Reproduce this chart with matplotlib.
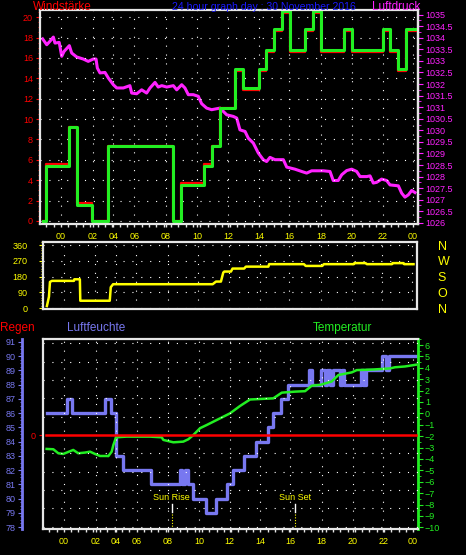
import numpy as np
import matplotlib
matplotlib.use('Agg')
import matplotlib.pyplot as plt
import matplotlib.transforms as mtransforms
from matplotlib.ticker import MultipleLocator

plt.rcParams['font.family'] = ['Liberation Sans', 'DejaVu Sans']

# ---- data -----------------------------------------------------------------
# time axis in chart hours; the original's hour labels are irregularly spaced
TICK_POS = [0, 2.18, 3.58, 5.0, 7.16, 9.28, 11.4, 13.5, 15.55, 17.72, 19.84, 21.95, 24.0]
TICK_LAB = ['00', '02', '04', '06', '08', '10', '12', '14', '16', '18', '20', '22', '00']
XLIM = (-1.43, 24.34)

# wind speed (red) and gusts (green), step series
wind_t = [-1.22, -1.04, 0.55, 1.11, 2.11, 3.21, 7.64, 8.16, 9.75, 10.30, 10.84, 11.88,
          12.39, 13.50, 13.96, 14.52, 15.07, 15.61, 16.64, 17.18, 17.71, 19.29, 19.82,
          21.93, 22.43, 22.96, 23.50, 24.18]
wind_avg = [0.0, 5.55, 9.25, 1.8, 0.0, 7.4, 0.0, 3.75, 5.55, 7.4, 11.1, 14.75, 12.85,
            14.75, 16.6, 18.6, 20.45, 16.6, 18.6, 20.45, 16.6, 18.6, 16.6, 18.6, 16.6,
            14.75, 18.6, 18.6]
wind_gust = [0.0, 5.4, 9.25, 1.6, 0.0, 7.35, 0.0, 3.55, 5.4, 7.35, 11.1, 14.95, 13.0,
             14.95, 16.8, 18.8, 20.6, 16.8, 18.8, 20.6, 16.8, 18.8, 16.8, 18.8, 16.8,
             14.95, 18.8, 18.8]

# air pressure (hPa)
press_t = [-1.25, -0.97, -0.75, -0.52, -0.41, -0.12, 0.05, 0.21, 0.57, 0.73, 1.07, 1.52,
           1.86, 2.20, 2.39, 2.48, 2.66, 3.00, 3.23, 3.57, 3.80, 4.25, 4.70, 4.82, 5.16,
           5.50, 5.84, 6.07, 6.41, 6.63, 6.87, 7.21, 7.66, 7.89, 8.23, 8.45, 8.68, 9.02,
           9.36, 9.59, 9.93, 10.27, 10.84, 11.30, 11.75, 11.98, 12.20, 12.55, 12.77,
           13.11, 13.45, 13.79, 14.02, 14.25, 14.59, 15.16, 15.39, 15.95, 16.41, 16.75,
           17.09, 17.88, 18.34, 18.56, 18.90, 19.14, 19.48, 19.82, 20.16, 20.39, 20.84,
           21.07, 21.29, 21.52, 21.86, 22.20, 22.43, 23.00, 23.23, 23.45, 23.68, 23.91,
           24.13]
press_hpa = [1033.95, 1033.70, 1033.85, 1034.03, 1033.77, 1033.80, 1033.20, 1033.41,
             1033.66, 1033.34, 1033.17, 1033.08, 1032.98, 1033.08, 1033.08, 1032.69,
             1032.48, 1032.50, 1032.26, 1031.97, 1031.83, 1031.83, 1031.93, 1031.61,
             1031.58, 1031.75, 1031.61, 1031.83, 1032.07, 1031.87, 1031.93, 1031.87,
             1031.93, 1031.75, 1031.97, 1031.83, 1031.54, 1031.54, 1031.47, 1031.15,
             1030.96, 1030.89, 1030.96, 1030.67, 1030.60, 1030.53, 1030.02, 1029.95,
             1029.66, 1029.45, 1029.02, 1028.73, 1028.65, 1028.83, 1028.73, 1028.73,
             1028.41, 1028.32, 1028.22, 1028.15, 1028.25, 1028.25, 1028.22, 1027.83,
             1027.83, 1028.08, 1028.26, 1028.32, 1028.22, 1028.00, 1028.00, 1028.03,
             1027.72, 1027.75, 1027.89, 1027.83, 1027.64, 1027.60, 1027.28, 1027.11,
             1027.21, 1027.40, 1027.31]

# wind direction (degrees)
dir_t = [-1.16, -1.02, -0.95, -0.81, 0.70, 0.73, 1.11, 1.14, 3.17, 3.24, 3.40, 10.26,
         10.49, 10.83, 10.99, 11.06, 11.52, 11.63, 12.43, 12.55, 14.10, 14.15, 16.55,
         16.67, 17.81, 17.92, 19.98, 20.03, 20.79, 20.89, 22.61, 22.66, 23.41, 23.46, 24.10]
dir_deg = [13, 66, 150, 156, 156, 165, 165, 43, 43, 120, 137, 137, 152, 152, 203, 209,
           209, 226, 226, 237, 237, 251, 251, 241, 241, 251, 251, 257, 257, 251, 251,
           257, 257, 251, 251]

# relative humidity (%), step series
hum_t = [-1.18, 0.20, 0.54, 2.85, 3.27, 3.57, 4.10, 5.99, 8.01, 8.12, 8.33, 8.56, 8.91,
         9.74, 10.46, 11.20, 11.65, 12.39, 13.21, 14.06, 14.40, 14.91, 15.43, 16.87,
         17.04, 17.66, 17.95, 18.09, 18.30, 18.50, 18.98, 19.12, 19.26, 20.43, 20.56,
         20.77, 21.89, 22.12, 22.37, 24.19]
hum_pct = [86, 87, 86, 87, 86, 83, 82, 81, 82, 81, 82, 81, 80, 79, 80, 81, 82, 83, 84,
           85, 86, 87, 88, 89, 88, 89, 88, 89, 88, 89, 88, 89, 88, 89, 88, 89, 90, 89,
           90, 90]

# temperature (deg C)
temp_t = [-1.18, -0.72, -0.38, -0.04, 0.20, 0.65, 0.99, 1.46, 1.80, 2.14, 2.49, 2.95,
          3.06, 3.29, 3.40, 3.59, 4.32, 5.92, 6.73, 6.84, 7.53, 8.21, 8.56, 8.90, 9.24,
          9.36, 9.82, 10.51, 11.20, 11.42, 12.11, 12.80, 14.40, 14.98, 15.89, 16.58,
          17.04, 17.61, 18.41, 18.87, 19.79, 20.13, 21.27, 22.42, 22.76, 23.45, 24.19]
temp_c = [-3.12, -3.15, -3.50, -3.56, -3.44, -3.21, -3.50, -3.44, -3.36, -3.56, -3.74,
          -3.74, -3.75, -3.36, -2.80, -2.10, -2.04, -2.04, -2.10, -2.33, -2.54, -2.48,
          -2.27, -1.90, -1.46, -1.30, -1.02, -0.58, -0.14, 0.00, 0.65, 1.22, 1.32, 1.82,
          1.91, 1.95, 2.43, 2.50, 2.80, 3.37, 3.60, 3.80, 3.85, 3.95, 4.05, 4.12, 4.27]

# rain (mm)
rain_t = [-1.2, 24.2]
rain_mm = [0.0, 0.0]

sun_labels = ['Sun Rise', 'Sun Set']
sun_t = [7.42, 15.91]

# ---- style ----------------------------------------------------------------
W, H = 466, 555
SPINE = '#E6E6E6'
YEL = '#FFFF00'
RED = '#FF0000'
GRN = '#22EE22'
MAG = '#FF22FF'
BLUE = '#1A1AFF'
HUM = '#7878F0'
GRID = dict(color='white', lw=0.8, linestyle=(0, (1, 7)))


def box(l, t, r, b):
    return [l / W, 1 - b / H, (r - l) / W, (b - t) / H]


def spines(ax, color=SPINE, lw=1.6, sides=('left', 'right', 'top', 'bottom')):
    for s, sp in ax.spines.items():
        sp.set_visible(s in sides)
        sp.set_color(color)
        sp.set_linewidth(lw)


def time_axis(ax, labels=True):
    ax.set_xlim(XLIM)
    ax.set_xticks(TICK_POS, TICK_LAB if labels else [])
    ax.xaxis.set_minor_locator(MultipleLocator(0.5))
    ax.tick_params(axis='x', which='major', color=SPINE, labelcolor=YEL,
                   labelsize=6.5, length=2.5 if labels else 0, pad=3, width=1)
    ax.tick_params(axis='x', which='minor', color=SPINE,
                   length=2 if labels else 0, width=1)


fig = plt.figure(figsize=(W / 100, H / 100), dpi=100, facecolor='black')

# ---- panel 1: wind speed + pressure ---------------------------------------
ax1 = fig.add_axes(box(40, 10, 418, 224))
axP = ax1.twinx()
ax1.set_zorder(2)
axP.set_zorder(1)
for a in (ax1, axP):
    a.patch.set_visible(False)

time_axis(ax1)
ax1.set_ylim(-0.3, 20.7)
ax1.set_yticks(range(0, 21, 2))
ax1.yaxis.set_minor_locator(MultipleLocator(0.5))
ax1.tick_params(axis='y', which='major', colors=RED, labelsize=6.5, length=3, pad=2)
ax1.tick_params(axis='y', which='minor', colors=RED, length=1.5)
ax1.grid(which='major', **GRID)
spines(ax1)

ax1.step(wind_t, wind_avg, where='post', color=RED, lw=1.6)
ax1.step(wind_t, wind_gust, where='post', color=GRN, lw=2.2)

axP.set_ylim(1025.95, 1035.2)
pt = np.arange(1026, 1035.01, 0.5)
axP.set_yticks(pt, [f'{v:g}' for v in pt])
axP.yaxis.set_minor_locator(MultipleLocator(0.25))
axP.tick_params(axis='y', which='major', colors=MAG, labelsize=6.5, length=3.5, pad=1.5)
axP.tick_params(axis='y', which='minor', colors=MAG, length=1.8)
spines(axP, sides=('right',))
axP.plot(press_t, press_hpa, color=MAG, lw=2.2)

fig.text(33 / W, 1 - 10.5 / H, 'Windstärke', color=RED, fontsize=8.5, va='baseline')
fig.text(172 / W, 1 - 10.5 / H, '24 hour graph day : 30 November 2016', color=BLUE,
         fontsize=7.6, va='baseline')
fig.text(372 / W, 1 - 10.5 / H, 'Luftdruck', color=MAG, fontsize=8.5, va='baseline')

# ---- panel 2: wind direction ----------------------------------------------
ax2 = fig.add_axes(box(43, 241.7, 417, 309.3))
ax2.patch.set_visible(False)
time_axis(ax2, labels=False)
ax2.set_ylim(-5.7, 378.8)
ax2.set_yticks([0, 90, 180, 270, 360])
ax2.yaxis.set_minor_locator(MultipleLocator(15))
ax2.tick_params(axis='y', which='major', colors=YEL, labelsize=6.5, length=3, pad=8)
ax2.tick_params(axis='y', which='minor', colors=YEL, length=1.5)
ax2.grid(which='major', **GRID)
spines(ax2)
ax2.plot(dir_t, dir_deg, color=YEL, lw=1.8)

axD = ax2.twinx()
axD.set_ylim(ax2.get_ylim())
axD.set_yticks([0, 90, 180, 270, 360], ['N', 'O', 'S', 'W', 'N'])
axD.tick_params(axis='y', colors=YEL, labelsize=9, length=0, pad=15)
spines(axD, sides=())

# ---- panel 3: rain, humidity, temperature ---------------------------------
ax3 = fig.add_axes(box(43, 339, 418, 529))
axT = ax3.twinx()
axH = ax3.twinx()
axH.set_zorder(1)
axT.set_zorder(2)
ax3.set_zorder(3)
for a in (ax3, axT, axH):
    a.patch.set_visible(False)

time_axis(ax3)
ax3.set_ylim(-5.13, 5.24)
ax3.set_yticks([0], ['0'])
ax3.set_yticks(range(-5, 6), minor=True)
ax3.tick_params(axis='y', which='major', colors=RED, labelsize=6.5, length=3, pad=2)
ax3.tick_params(axis='y', which='minor', length=0)
ax3.grid(which='minor', axis='y', **GRID)
ax3.grid(which='major', axis='x', **GRID)
spines(ax3, sides=('left', 'top', 'bottom'))
ax3.plot(rain_t, rain_mm, color=RED, lw=1.8)

axT.set_ylim(-10.15, 6.53)
axT.set_yticks(range(-10, 7))
axT.yaxis.set_minor_locator(MultipleLocator(0.5))
axT.tick_params(axis='y', which='major', colors=GRN, labelsize=6.5, length=3.5, pad=1.5)
axT.tick_params(axis='y', which='minor', colors=GRN, length=1.8)
spines(axT, color=GRN, lw=2, sides=('right',))
axT.plot(temp_t, temp_c, color=GRN, lw=1.8)

axH.set_ylim(77.86, 91.21)
axH.yaxis.tick_left()
axH.set_yticks(range(78, 92))
axH.yaxis.set_minor_locator(MultipleLocator(0.25))
axH.tick_params(axis='y', which='major', colors=HUM, labelsize=6.5, length=3, pad=1.5)
axH.tick_params(axis='y', which='minor', colors=HUM, length=1.5)
spines(axH, color=HUM, lw=2, sides=('left',))
axH.spines['left'].set_position(('axes', -21 / 375))
axH.step(hum_t, hum_pct, where='post', color=HUM, lw=2.4)

trans = mtransforms.blended_transform_factory(ax3.transData, ax3.transAxes)
for lab, t in zip(sun_labels, sun_t):
    ax3.plot([t, t], [0.0, 0.09], transform=trans, color=YEL, lw=0.8,
             linestyle=(0, (1, 1.5)))
    ax3.plot([t, t], [0.09, 0.132], transform=trans, color='white', lw=1)
    ax3.text(t, 0.165, lab, transform=trans, color=YEL, fontsize=6.5,
             ha='center', va='center')

fig.text(0, 1 - 331 / H, 'Regen', color=RED, fontsize=8.5, va='baseline')
fig.text(67 / W, 1 - 331 / H, 'Luftfeuchte', color=HUM, fontsize=8.5, va='baseline')
fig.text(313 / W, 1 - 331 / H, 'Temperatur', color=GRN, fontsize=8.5, va='baseline')

fig.savefig('out.png', dpi=100, facecolor='black')
